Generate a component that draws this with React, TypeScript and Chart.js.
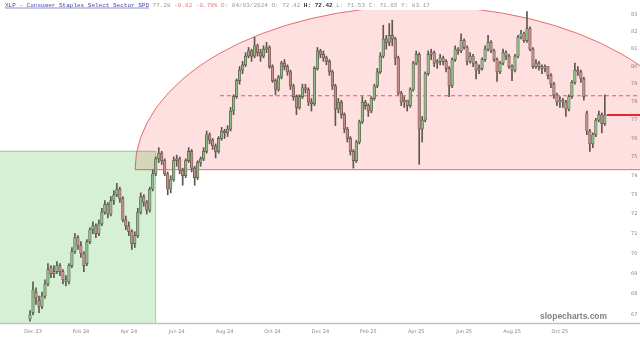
import React, { useEffect, useRef } from "react";
import { Chart, registerables } from "chart.js";

Chart.register(...registerables);

// ---- data (XLP, sampled ~2 trading days per candle) ----
const opens = [
  66.8,67.1,68.1,67.7,67.4,67.9,68.5,69.3,69.0,69.1,69.4,69.1,68.7,68.6,69.4,70.1,
  70.8,70.4,70.0,69.5,70.6,71.2,71.4,71.0,71.5,72.1,72.5,72.0,72.7,73.0,73.3,72.8,
  71.7,71.4,71.1,70.5,70.9,72.1,72.9,72.6,72.2,73.3,74.1,74.9,75.2,74.8,74.1,73.3,
  73.8,74.8,74.9,74.3,74.0,74.8,75.3,74.4,73.9,74.7,74.9,75.3,76.2,75.9,75.6,75.3,
  76.0,76.4,76.3,76.5,77.5,78.3,79.2,79.8,80.1,80.6,80.9,80.6,81.2,80.8,80.6,81.0,
  81.1,80.0,79.2,78.7,79.4,80.2,80.0,79.7,78.9,78.3,77.7,78.3,78.8,78.7,78.0,77.9,
  79.9,80.9,80.7,80.5,80.3,79.7,78.9,77.6,78.0,77.3,76.5,76.0,75.3,74.8,75.8,76.9,
  78.0,77.8,77.5,78.2,78.9,79.7,80.6,81.6,81.4,81.8,81.6,80.5,78.5,78.0,78.1,77.8,
  78.7,80.2,80.7,76.5,77.0,79.6,80.7,80.8,80.2,80.3,80.5,80.3,79.9,78.9,80.4,81.0,
  80.9,81.5,81.1,80.3,80.6,80.2,79.8,79.9,80.4,81.0,81.4,80.9,80.4,79.7,80.2,80.8,
  80.6,80.0,79.8,80.6,81.7,81.9,81.5,82.2,81.0,80.0,80.2,80.0,79.9,80.0,79.5,79.0,
  78.4,78.0,78.1,78.0,77.6,78.3,79.1,79.8,79.7,79.3,77.4,76.4,75.7,76.2,77.0,77.3,76.8,
];
const highs = [
  67.2,68.6,68.3,67.9,68.1,68.7,69.5,69.4,69.4,69.6,69.5,69.2,68.9,69.5,70.3,71.0,
  70.9,70.6,70.1,70.7,71.3,71.6,71.5,71.7,72.3,72.7,72.6,72.9,73.2,73.6,73.4,72.9,
  71.9,71.6,71.2,71.1,72.3,73.1,73.0,72.7,73.4,74.3,75.0,75.5,75.3,74.9,74.2,74.0,
  75.0,75.1,75.0,74.4,74.9,75.5,75.4,74.5,74.8,75.0,75.5,76.4,76.3,76.0,75.7,76.1,
  76.6,76.5,76.7,77.7,78.4,79.3,80.0,80.3,80.8,81.1,81.0,81.7,81.3,81.0,81.2,81.4,
  81.2,80.1,79.3,79.5,80.3,80.4,80.1,79.8,79.0,78.4,78.4,79.0,79.0,78.8,78.2,80.0,
  81.1,81.0,80.9,80.6,80.4,79.8,79.0,78.2,78.1,77.4,76.6,76.1,75.4,75.9,77.0,78.3,
  78.1,77.9,78.3,79.0,79.9,80.8,82.4,81.8,82.5,82.7,81.7,80.6,78.6,78.3,78.1,78.8,
  80.3,80.9,80.8,77.2,79.7,80.9,81.0,80.9,80.4,80.7,80.6,80.4,80.0,80.5,81.2,81.1,
  81.9,81.6,81.2,80.8,80.7,80.3,80.1,80.5,81.2,81.8,81.5,81.0,80.5,80.3,81.0,80.9,
  80.7,80.1,80.7,81.8,82.1,82.0,83.2,82.3,81.1,80.4,80.3,80.1,80.1,80.0,79.6,79.1,
  78.5,78.3,78.2,78.1,78.4,79.2,80.2,80.0,79.8,79.4,77.5,76.5,76.3,77.1,77.5,77.4,78.4,
];
const lows = [
  66.7,67.0,67.5,67.1,67.3,67.8,68.4,68.8,68.8,69.0,68.9,68.5,68.4,68.5,69.3,70.0,
  70.2,69.8,69.1,69.4,70.5,71.0,70.8,70.9,71.4,72.0,71.8,71.9,72.5,72.9,72.6,71.6,
  71.2,70.9,70.2,70.3,70.8,72.0,72.4,72.0,72.1,73.2,74.0,74.7,74.6,74.0,73.0,73.1,
  73.7,74.5,74.1,73.5,73.9,74.7,74.2,73.5,73.8,74.5,74.8,75.2,75.7,75.4,74.95,75.2,
  75.9,76.0,76.1,76.4,77.3,78.2,79.0,79.6,80.0,80.5,80.3,80.5,80.6,80.3,80.5,80.8,
  79.9,79.1,78.4,78.6,79.3,79.8,79.5,78.7,78.1,77.3,77.6,78.2,78.5,77.8,77.5,77.8,
  79.8,80.5,80.3,80.1,79.5,78.7,76.7,77.4,77.1,76.3,75.8,75.1,74.4,74.7,75.7,76.8,
  77.6,77.2,77.4,78.1,78.8,79.6,80.5,81.0,81.2,81.2,80.1,78.4,77.8,77.7,77.5,77.7,
  78.6,80.1,74.6,75.8,76.9,79.5,80.4,80.0,79.9,80.1,80.1,79.7,78.3,78.8,80.3,80.7,
  80.8,81.0,80.1,80.2,80.0,79.3,79.6,79.8,80.3,80.9,80.8,80.3,79.15,79.6,80.1,80.4,
  79.9,79.2,79.7,80.5,81.6,81.4,81.4,80.9,79.9,79.9,79.8,79.6,79.7,79.3,78.8,78.2,
  77.8,77.7,77.7,77.2,77.5,78.2,79.0,79.5,79.1,78.1,76.2,75.3,75.5,76.1,76.9,76.3,76.7,
];
const closes = [
  67.0,68.2,67.8,67.4,67.9,68.5,69.2,69.0,69.1,69.4,69.1,68.7,68.6,69.4,70.1,70.8,
  70.4,70.0,69.4,70.6,71.2,71.4,71.0,71.5,72.1,72.5,72.0,72.7,73.0,73.3,72.8,71.7,
  71.4,71.1,70.5,70.9,72.1,72.9,72.6,72.2,73.3,74.1,74.9,75.2,74.8,74.1,73.3,73.8,
  74.8,74.9,74.3,74.0,74.8,75.3,74.4,73.9,74.7,74.9,75.3,76.2,75.9,75.6,75.3,76.0,
  76.4,76.3,76.5,77.5,78.3,79.2,79.8,80.1,80.6,80.9,80.6,81.2,80.8,80.6,81.0,81.1,
  80.0,79.2,78.7,79.4,80.2,80.0,79.7,78.9,78.3,77.7,78.3,78.8,78.7,78.0,77.9,79.9,
  80.9,80.7,80.5,80.3,79.7,78.9,77.6,78.0,77.3,76.5,76.0,75.3,74.8,75.8,76.9,78.0,
  77.8,77.5,78.2,78.9,79.7,80.6,81.6,81.4,81.8,81.6,80.5,78.5,78.0,78.1,77.8,78.7,
  80.2,80.7,76.5,77.0,79.6,80.7,80.8,80.2,80.3,80.5,80.3,79.9,78.9,80.4,81.0,80.9,
  81.5,81.1,80.3,80.6,80.2,79.8,79.9,80.4,81.0,81.4,80.9,80.4,79.7,80.2,80.8,80.6,
  80.0,79.8,80.6,81.7,81.9,81.5,82.2,81.0,80.0,80.2,80.0,79.9,80.0,79.5,79.0,78.4,
  78.0,78.1,78.0,77.6,78.3,79.1,79.8,79.7,79.3,78.3,76.4,75.7,76.2,77.0,77.3,76.8,77.28,
];

// x positions are months since Dec 2023 (candles ~ every 2 trading days)
const FIRST_MONTH = -0.125;
const MONTH_STEP = 0.125;

const xTickMonths = [0, 2, 4, 6, 8, 10, 12, 14, 16, 18, 20, 22];
const xTickLabels = ["Dec 23", "Feb 24", "Apr 24", "Jun 24", "Aug 24", "Oct 24", "Dec 24", "Feb 25", "Apr 25", "Jun 25", "Aug 25", "Oct 25"];
const yTicks = [67, 68, 69, 70, 71, 72, 73, 74, 75, 76, 77, 78, 79, 80, 81, 82, 83];

// drawings (in data units)
const BOX_END_MONTH = 5.12;
const BOX_TOP_PRICE = 75.33;
const ARC_CENTER_MONTH = 16.16;
const ARC_HALF_MONTHS = 11.9;
const ARC_BASE_PRICE = 74.32;
const ARC_TOP_PRICE = 83.53;
const DASH_START_MONTH = 7.81;
const DASH_PRICE = 78.35;
const LAST_PRICE = 77.28;

const X_MIN = -1.378;
const X_MAX = 24.843;
const Y_MIN = 66.61;
const Y_MAX = 83.3;

const titleParts = [
  { t: "XLP - Consumer Staples Select Sector SPD", c: "#4646a8", u: true, b: false },
  { t: " 77.28 ", c: "#9a9a9a", u: false, b: false },
  { t: "-0.62 -0.79%", c: "#e77a7a", u: false, b: false },
  { t: " D: 04/03/2024 O: 72.42 ", c: "#9a9a9a", u: false, b: false },
  { t: "H: 72.42", c: "#333333", u: false, b: true },
  { t: " L: 71.53 C: 71.65 Y: 83.17", c: "#9a9a9a", u: false, b: false },
];

const overlayPlugin = {
  id: "overlay",
  beforeDatasetsDraw(chart: any) {
    const { ctx, chartArea, scales } = chart;
    const xs = scales.x;
    const ys = scales.y;
    const W = chart.width;
    ctx.save();
    ctx.beginPath();
    ctx.rect(0, chartArea.top, W, chartArea.bottom - chartArea.top);
    ctx.clip();

    // pink half-ellipse
    const cx = xs.getPixelForValue(ARC_CENTER_MONTH);
    const cy = ys.getPixelForValue(ARC_BASE_PRICE);
    const rx = xs.getPixelForValue(ARC_CENTER_MONTH + ARC_HALF_MONTHS) - cx;
    const ry = cy - ys.getPixelForValue(ARC_TOP_PRICE);
    ctx.beginPath();
    ctx.ellipse(cx, cy, rx, ry, 0, Math.PI, 2 * Math.PI);
    ctx.closePath();
    ctx.fillStyle = "rgba(255,0,0,0.12)";
    ctx.fill();
    ctx.strokeStyle = "rgba(220,40,40,0.65)";
    ctx.lineWidth = 1;
    ctx.stroke();

    // green box
    const bx = xs.getPixelForValue(BOX_END_MONTH);
    const by = ys.getPixelForValue(BOX_TOP_PRICE);
    ctx.fillStyle = "rgba(0,161,0,0.16)";
    ctx.fillRect(0, by, bx, chartArea.bottom - by);
    ctx.strokeStyle = "rgba(0,160,0,0.35)";
    ctx.lineWidth = 1;
    ctx.strokeRect(-1, by + 0.5, bx + 1, chartArea.bottom - by);

    // dashed line
    const dy = ys.getPixelForValue(DASH_PRICE);
    ctx.beginPath();
    ctx.setLineDash([4, 3]);
    ctx.moveTo(xs.getPixelForValue(DASH_START_MONTH), dy);
    ctx.lineTo(W, dy);
    ctx.strokeStyle = "rgba(220,50,50,0.8)";
    ctx.stroke();
    ctx.setLineDash([]);
    ctx.restore();
  },
  afterDatasetsDraw(chart: any) {
    const { ctx, chartArea, scales } = chart;
    const xs = scales.x;
    const ys = scales.y;
    const W = chart.width;
    ctx.save();
    // last price line
    const lastX = xs.getPixelForValue(FIRST_MONTH + (closes.length - 1) * MONTH_STEP);
    const ly = ys.getPixelForValue(LAST_PRICE);
    ctx.beginPath();
    ctx.moveTo(lastX + 2, ly);
    ctx.lineTo(W, ly);
    ctx.strokeStyle = "#e02a2a";
    ctx.lineWidth = 2;
    ctx.stroke();

    // x axis line
    ctx.beginPath();
    ctx.moveTo(0, chartArea.bottom + 0.5);
    ctx.lineTo(W, chartArea.bottom + 0.5);
    ctx.strokeStyle = "#c2c2c2";
    ctx.lineWidth = 1.5;
    ctx.stroke();

    // watermark
    const wmFamily = '"Liberation Sans", Arial, sans-serif';
    ctx.font = `bold 10px ${wmFamily}`;
    const w10 = ctx.measureText("slopecharts.com").width;
    const size = (10 * 67) / w10;
    ctx.font = `bold ${size.toFixed(2)}px ${wmFamily}`;
    ctx.fillStyle = "#808080";
    ctx.textAlign = "right";
    ctx.textBaseline = "middle";
    ctx.fillText("slopecharts.com", 607, chartArea.bottom - 6);

    // title
    ctx.textAlign = "left";
    ctx.textBaseline = "middle";
    let tx = 5;
    for (const p of titleParts) {
      ctx.font = `${p.b ? "bold " : ""}6px "Liberation Mono", "DejaVu Sans Mono", monospace`;
      ctx.fillStyle = p.c;
      ctx.fillText(p.t, tx, 5);
      const w = ctx.measureText(p.t).width;
      if (p.u) {
        ctx.beginPath();
        ctx.moveTo(tx, 8);
        ctx.lineTo(tx + w, 8);
        ctx.strokeStyle = p.c;
        ctx.lineWidth = 0.6;
        ctx.stroke();
      }
      tx += w;
    }
    ctx.restore();
  },
};

export default function App() {
  const ref = useRef<HTMLCanvasElement | null>(null);
  useEffect(() => {
    document.body.style.margin = "0";
    const canvas = ref.current;
    if (!canvas) return;
    const xsVals = closes.map((_, i) => FIRST_MONTH + i * MONTH_STEP);
    const upColors = closes.map((c, i) => (c >= opens[i] ? "#8cbf86" : "#c98c88"));
    const chart = new Chart(canvas, {
      type: "bar",
      data: {
        datasets: [
          {
            label: "body",
            data: xsVals.map((x, i) => ({ x, y: [opens[i], closes[i]] })) as any,
            backgroundColor: upColors,
            borderColor: "#5a5248",
            borderWidth: 0.7,
            borderSkipped: false,
            barThickness: 2.6,
            grouped: false,
            order: 1,
          } as any,
          {
            label: "wick",
            data: xsVals.map((x, i) => ({ x, y: [lows[i], highs[i]] })) as any,
            backgroundColor: "#5e574e",
            borderWidth: 0,
            barThickness: 1,
            grouped: false,
            order: 2,
          } as any,
        ],
      },
      options: {
        animation: false,
        responsive: false,
        maintainAspectRatio: false,
        layout: { padding: { left: 0, right: 0, top: 10, bottom: 0 } },
        plugins: { legend: { display: false }, tooltip: { enabled: false } },
        scales: {
          x: {
            type: "linear",
            offset: false,
            min: X_MIN,
            max: X_MAX,
            grid: { display: false, drawTicks: false, offset: false },
            border: { display: false },
            ticks: {
              autoSkip: false,
              maxRotation: 0,
              padding: 6,
              color: "#8a8a8a",
              font: { size: 5, family: "DejaVu Sans" },
              callback: (_v: any, i: number) => xTickLabels[i],
            },
            afterBuildTicks: (s: any) => {
              s.ticks = xTickMonths.map((v) => ({ value: v }));
            },
            afterFit: (s: any) => {
              s.height = 16;
            },
          },
          y: {
            type: "logarithmic",
            position: "right",
            min: Y_MIN,
            max: Y_MAX,
            grid: { display: false, drawTicks: false },
            border: { display: false },
            ticks: {
              padding: 3,
              color: "#8a8a8a",
              font: { size: 5, family: "DejaVu Sans" },
              callback: (v: any) => String(v),
            },
            afterBuildTicks: (s: any) => {
              s.ticks = yTicks.map((v) => ({ value: v }));
            },
            afterFit: (s: any) => {
              s.width = 12;
            },
          },
        },
      } as any,
      plugins: [overlayPlugin],
    });
    return () => chart.destroy();
  }, []);
  return (
    <div style={{ width: 640, height: 339, background: "#fff" }}>
      <canvas ref={ref} width={640} height={339} style={{ display: "block" }} />
    </div>
  );
}
